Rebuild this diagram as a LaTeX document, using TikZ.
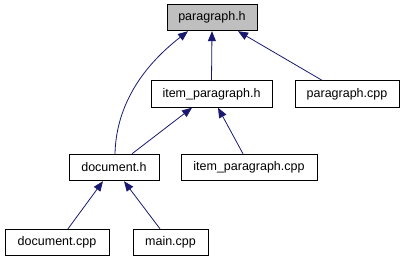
\documentclass[tikz,border=0pt]{standalone}
\usepackage{fontspec}
\setmainfont{Liberation Sans}
\usetikzlibrary{arrows.meta}
\definecolor{edgeblue}{RGB}{25,25,112}
\definecolor{rootgray}{RGB}{191,191,191}
\tikzset{
  file/.style={draw=black, line width=0.9pt, fill=white, minimum height=26.5pt,
    inner sep=0pt, font=\fontsize{12.5}{14}\selectfont},
  root/.style={file, fill=rootgray},
  dep/.style={draw=edgeblue, line width=0.8pt,
    -{Triangle[length=10pt,width=8pt]}, fill=none},
}
\begin{document}
\begin{tikzpicture}[x=1pt, y=-1pt]
  \useasboundingbox (0,0) rectangle (404,261);
  % headers and sources
  \node[root, minimum width=90pt]  (ph)  at (212,17.5)  {paragraph.h};
  \node[file, minimum width=121pt] (ip)  at (211.5,94)  {item\_paragraph.h};
  \node[file, minimum width=104pt] (pc)  at (347,94)    {paragraph.cpp};
  \node[file, minimum width=90pt]  (dh)  at (114,167.5) {document.h};
  \node[file, minimum width=136pt] (ipc) at (249,167.5) {item\_paragraph.cpp};
  \node[file, minimum width=104pt] (dc)  at (57,242.5)  {document.cpp};
  \node[file, minimum width=75pt]  (mc)  at (170.5,242.5) {main.cpp};
  % include relations
  \draw[dep] (ip.north) -- (ph.south);
  \draw[dep] ([xshift=-25pt]pc.north) -- ([xshift=26pt]ph.south);
  \draw[dep] ([xshift=1pt]dh.north) .. controls (116,110) and (138,70) .. ([xshift=-24pt]ph.south);
  \draw[dep] ([xshift=18pt]dh.north) -- ([xshift=-19.5pt]ip.south);
  \draw[dep] ([xshift=-6pt]ipc.north) -- ([xshift=6.5pt]ip.south);
  \draw[dep] ([xshift=11pt]dc.north) -- ([xshift=-11pt]dh.south);
  \draw[dep] ([xshift=-10.5pt]mc.north) -- ([xshift=10pt]dh.south);
\end{tikzpicture}
\end{document}
